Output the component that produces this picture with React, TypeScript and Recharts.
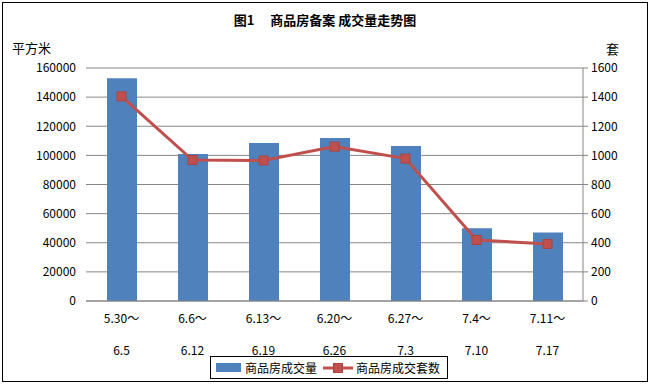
import React from 'react';
import { ComposedChart, Bar, Line, XAxis, YAxis, CartesianGrid } from 'recharts';

const periodStart = ['5.30～', '6.6～', '6.13～', '6.20～', '6.27～', '7.4～', '7.11～'];
const periodEnd = ['6.5', '6.12', '6.19', '6.26', '7.3', '7.10', '7.17'];
const areaSold = [153000, 101000, 108500, 112000, 106500, 50000, 47000];
const unitsSold = [1405, 968, 965, 1060, 978, 419, 392];
const leftTicks = [0, 20000, 40000, 60000, 80000, 100000, 120000, 140000, 160000];
const rightTicks = [0, 200, 400, 600, 800, 1000, 1200, 1400, 1600];
const seriesNames = ['商品房成交量', '商品房成交套数'];

const data = periodStart.map((s, i) => ({
  period: s,
  area: areaSold[i],
  units: unitsSold[i],
}));

const FONT = '"Noto Sans CJK SC", "Noto Sans", sans-serif';
const BLUE = '#4F81BD';
const RED = '#C0504D';
const GRID = '#868686';

const PeriodTick = (props: any) => {
  const { x, y, payload } = props;
  const i = payload.index;
  return (
    <g transform={`translate(${x},${y})`}>
      <text x={0} y={14} textAnchor="middle" fontSize={12} fill="#000" fontFamily={FONT}>
        {periodStart[i]}
      </text>
      <text x={0} y={46} textAnchor="middle" fontSize={12} fill="#000" fontFamily={FONT}>
        {periodEnd[i]}
      </text>
    </g>
  );
};

const SquareDot = (props: any) => {
  const { cx, cy } = props;
  if (cx == null || cy == null) return null;
  return <rect x={cx - 4.5} y={cy - 4.5} width={9} height={9} fill={RED} stroke="#A94440" strokeWidth={1} />;
};

export default function App() {
  return (
    <div style={{ position: 'absolute', left: 0, top: 0, width: 650, height: 384, background: '#fff', fontFamily: FONT }}>
      <div
        style={{
          position: 'absolute', left: 2, top: 2, width: 646, height: 380,
          border: '1px solid #000', boxSizing: 'border-box',
        }}
      />
      <div style={{ position: 'absolute', left: 0, width: 650, top: 10, textAlign: 'center', fontSize: 13, fontWeight: 'bold', color: '#000' }}>
        图1　 商品房备案 成交量走势图
      </div>
      <div style={{ position: 'absolute', left: 12, top: 38, fontSize: 13, color: '#000' }}>平方米</div>
      <div style={{ position: 'absolute', left: 606, top: 39, fontSize: 13, color: '#000' }}>套</div>

      <ComposedChart
        width={650}
        height={384}
        data={data}
        margin={{ top: 68, right: 7, left: 0, bottom: 23 }}
        style={{ position: 'absolute', left: 0, top: 0 }}
      >
        <CartesianGrid yAxisId="left" vertical={false} stroke={GRID} strokeWidth={1} />
        <XAxis
          dataKey="period"
          height={60}
          tick={<PeriodTick />}
          tickLine={false}
          axisLine={{ stroke: GRID }}
          interval={0}
        />
        <YAxis
          yAxisId="left"
          width={86}
          domain={[0, 160000]}
          ticks={leftTicks}
          axisLine={false}
          tickLine={false}
          tickSize={8}
          tickMargin={2}
          tick={{ fontSize: 12, fill: '#000', fontFamily: FONT }}
        />
        <YAxis
          yAxisId="right"
          orientation="right"
          width={60}
          domain={[0, 1600]}
          ticks={rightTicks}
          axisLine={{ stroke: GRID }}
          tickLine={{ stroke: GRID }}
          tickSize={5}
          tickMargin={3}
          tick={{ fontSize: 12, fill: '#000', fontFamily: FONT, textAnchor: 'start' }}
        />
        <Bar yAxisId="left" dataKey="area" name={seriesNames[0]} fill={BLUE} barSize={30} isAnimationActive={false} />
        <Line
          yAxisId="right"
          dataKey="units"
          name={seriesNames[1]}
          type="linear"
          stroke={RED}
          strokeWidth={3}
          dot={<SquareDot />}
          activeDot={false}
          isAnimationActive={false}
        />
      </ComposedChart>

      <div
        style={{
          position: 'absolute', left: 210, top: 356, width: 238, height: 23,
          border: '1px solid #000', boxSizing: 'border-box', display: 'flex', alignItems: 'center',
          fontSize: 12, color: '#000', paddingLeft: 5,
        }}
      >
        <span style={{ display: 'inline-block', width: 25, height: 9, background: BLUE, marginRight: 4 }} />
        <span>{seriesNames[0]}</span>
        <svg width={30} height={12} style={{ margin: '0 3px 0 6px' }}>
          <line x1={0} y1={6} x2={30} y2={6} stroke={RED} strokeWidth={3} />
          <rect x={10.5} y={1.5} width={9} height={9} fill={RED} stroke="#A94440" />
        </svg>
        <span>{seriesNames[1]}</span>
      </div>
    </div>
  );
}
